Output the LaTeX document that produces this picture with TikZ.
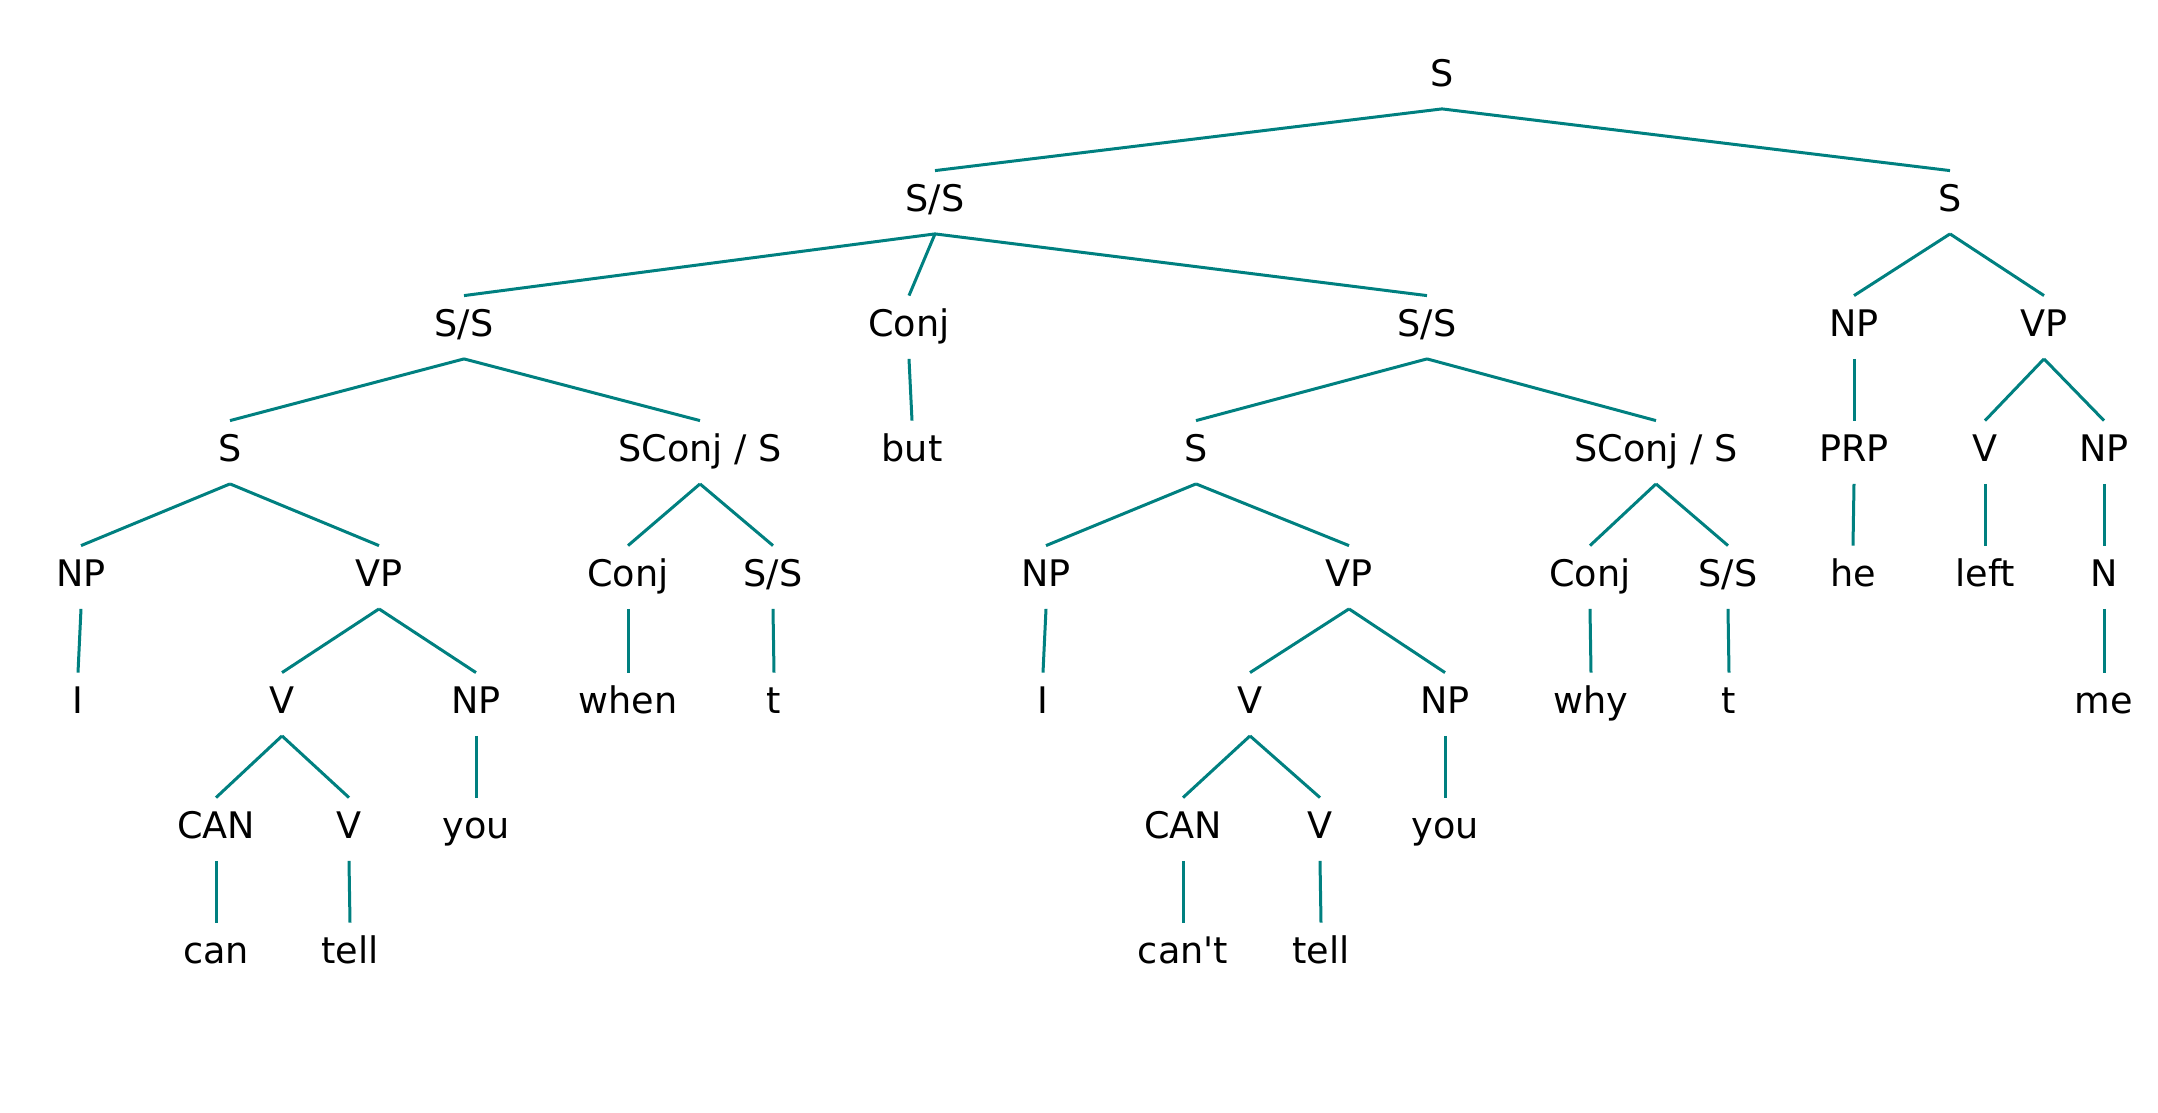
\documentclass[tikz,border=0pt]{standalone}
\usepackage{fontspec}
\newfontfamily\treefont{DejaVu Sans}
\begin{document}
\begin{tikzpicture}[x=0.5pt, y=-0.5pt,
  lab/.style={font=\treefont\fontsize{18.3}{22}\selectfont, inner sep=0pt,
              text height=20.25pt, text depth=11pt, anchor=base},
  edge/.style={teal, line width=1.5pt}]
  \useasboundingbox (0, 0) rectangle (2158, 1113);
  % level 0 and 1
  \node [lab] (root) at (1442, 86.5) {S};
  \node [lab] (ssA) at (935, 211.5) {S/S};
  \node [lab] (sB) at (1950, 211.5) {S};
  % level 2
  \node [lab] (ssC) at (464, 336.5) {S/S};
  \node [lab] (conjA) at (909, 336.5) {Conj};
  \node [lab] (ssD) at (1427, 336.5) {S/S};
  \node [lab] (npA) at (1854, 336.5) {NP};
  \node [lab] (vpA) at (2044, 336.5) {VP};
  % level 3
  \node [lab] (sE) at (230, 461.5) {S};
  \node [lab] (scA) at (700, 461.5) {SConj / S};
  \node [lab] (but) at (912, 461.5) {but};
  \node [lab] (sF) at (1196, 461.5) {S};
  \node [lab] (scB) at (1656, 461.5) {SConj / S};
  \node [lab] (prp) at (1854, 461.5) {PRP};
  \node [lab] (vA) at (1985, 461.5) {V};
  \node [lab] (npB) at (2104, 461.5) {NP};
  % level 4
  \node [lab] (npC) at (81, 586.5) {NP};
  \node [lab] (vpB) at (379, 586.5) {VP};
  \node [lab] (conjB) at (628, 586.5) {Conj};
  \node [lab] (ssE) at (773, 586.5) {S/S};
  \node [lab] (npD) at (1046, 586.5) {NP};
  \node [lab] (vpC) at (1349, 586.5) {VP};
  \node [lab] (conjC) at (1590, 586.5) {Conj};
  \node [lab] (ssF) at (1728, 586.5) {S/S};
  \node [lab] (he) at (1853, 586.5) {he};
  \node [lab] (left) at (1985, 586.5) {left};
  \node [lab] (nA) at (2104, 586.5) {N};
  % level 5
  \node [lab] (iA) at (78, 713.5) {I};
  \node [lab] (vB) at (282, 713.5) {V};
  \node [lab] (npE) at (476, 713.5) {NP};
  \node [lab] (when) at (628, 713.5) {when};
  \node [lab] (tA) at (774, 713.5) {t};
  \node [lab] (iB) at (1043, 713.5) {I};
  \node [lab] (vC) at (1250, 713.5) {V};
  \node [lab] (npF) at (1445, 713.5) {NP};
  \node [lab] (why) at (1591, 713.5) {why};
  \node [lab] (tB) at (1729, 713.5) {t};
  \node [lab] (me) at (2104, 713.5) {me};
  % level 6
  \node [lab] (canA) at (216, 838.5) {CAN};
  \node [lab] (vD) at (349, 838.5) {V};
  \node [lab] (youA) at (476, 838.5) {you};
  \node [lab] (canB) at (1183, 838.5) {CAN};
  \node [lab] (vE) at (1320, 838.5) {V};
  \node [lab] (youB) at (1445, 838.5) {you};
  % level 7
  \node [lab] (can) at (216, 963.5) {can};
  \node [lab] (tellA) at (350, 963.5) {tell};
  \node [lab] (cant) at (1183, 963.5) {can't};
  \node [lab] (tellB) at (1321, 963.5) {tell};
  % branches
  \foreach \p/\c in {root/ssA, root/sB, ssA/ssC, ssA/conjA, ssA/ssD,
      sB/npA, sB/vpA, ssC/sE, ssC/scA, conjA/but, ssD/sF, ssD/scB,
      npA/prp, vpA/vA, vpA/npB, sE/npC, sE/vpB, scA/conjB, scA/ssE,
      sF/npD, sF/vpC, scB/conjC, scB/ssF, prp/he, vA/left, npB/nA,
      npC/iA, vpB/vB, vpB/npE, conjB/when, ssE/tA, npD/iB, vpC/vC,
      vpC/npF, conjC/why, ssF/tB, nA/me, vB/canA, vB/vD, npE/youA,
      vC/canB, vC/vE, npF/youB, canA/can, vD/tellA, canB/cant, vE/tellB}
    \draw [edge] (\p.south) -- (\c.north);
\end{tikzpicture}
\end{document}
